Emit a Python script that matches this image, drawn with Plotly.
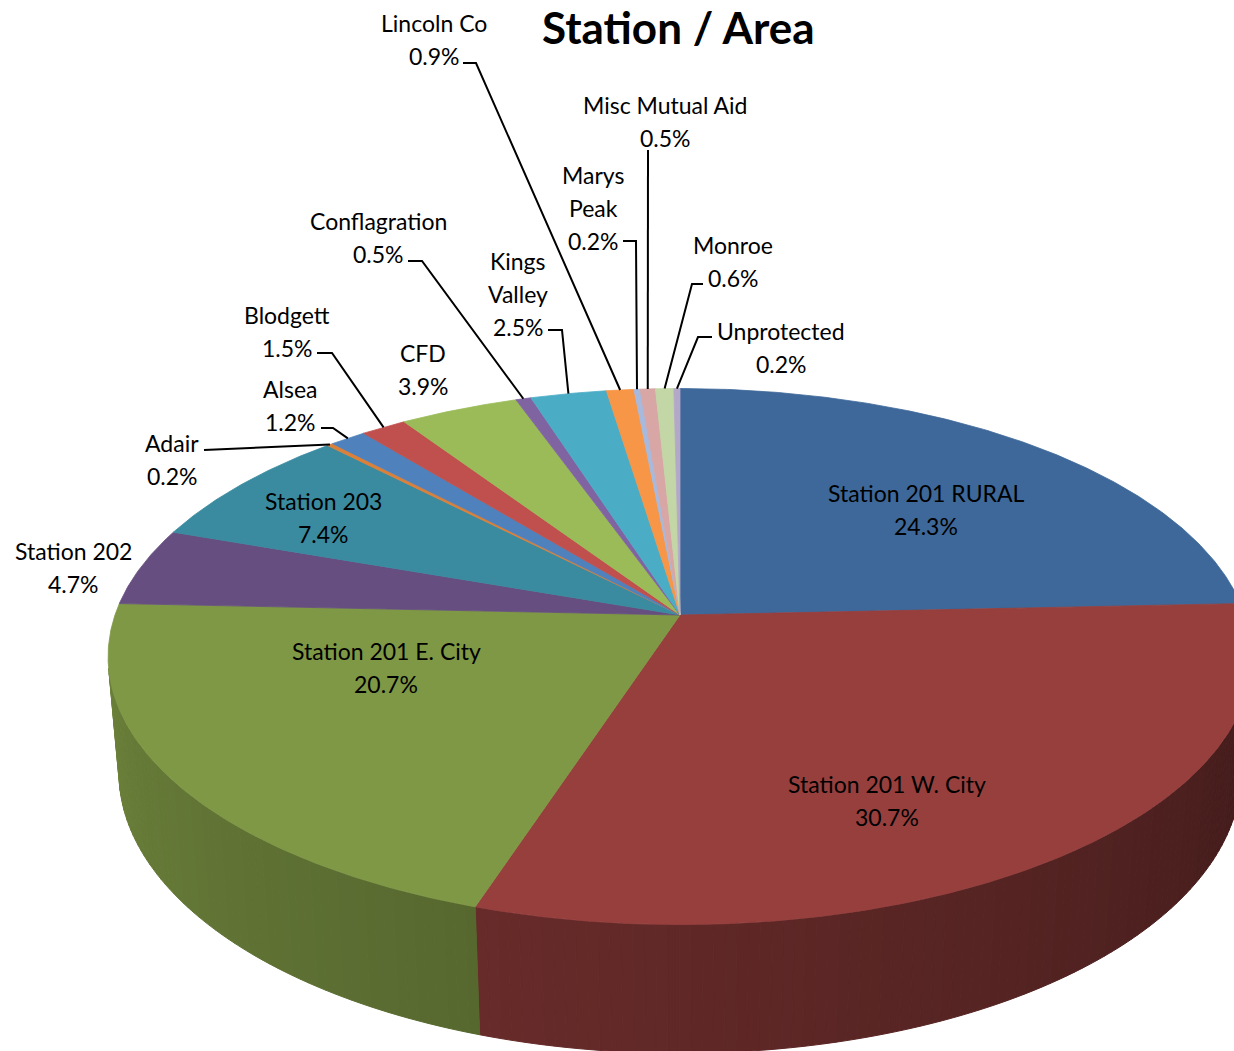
import math
import plotly.graph_objects as go

# ---------------- data ----------------
categories = ["Station 201 RURAL", "Station 201 W. City", "Station 201 E. City",
              "Station 202", "Station 203", "Adair", "Alsea", "Blodgett", "CFD",
              "Conflagration", "Kings Valley", "Lincoln Co", "Marys Peak",
              "Misc Mutual Aid", "Monroe", "Unprotected"]
values = [24.3, 30.7, 20.7, 4.7, 7.4, 0.2, 1.2, 1.5, 3.9, 0.5, 2.5, 0.9, 0.2, 0.5, 0.6, 0.2]
colors = ["#3E6899", "#963F3D", "#7F9845", "#664F80", "#3A8BA0", "#D9803B",
          "#4F81BD", "#C0504D", "#9BBB59", "#8064A2", "#4BACC6", "#F79646",
          "#A7B9DD", "#D7A6A5", "#C3D6A6", "#B3A8C8"]
title = "Station / Area"

# ---------------- layout / style (not data) ----------------
W, H_PX = 1234, 1051
CX, CY = 680.0, 615.0          # projected centre of the pie
R = 565.0                      # pie radius
THICK = 132.0                  # pie thickness
ALPHA = math.asin(0.463)       # tilt
DIST = 3230.0                  # perspective distance
SA, CA = math.sin(ALPHA), math.cos(ALPHA)
FONT = "Lato, Carlito, Calibri, sans-serif"
LABEL_SIZE = 23
LINE_GAP = 33

# label placement: (centre x, y of first line, list of text-line splits)
label_pos = {
    "Station 201 RURAL": (926, 493, None),
    "Station 201 W. City": (887, 784, None),
    "Station 201 E. City": (386, 651, None),
    "Station 202": (73, 551, None),
    "Station 203": (323, 501, None),
    "Adair": (172, 443, None),
    "Alsea": (290, 389, None),
    "Blodgett": (287, 315, None),
    "CFD": (423, 353, None),
    "Conflagration": (378, 221, None),
    "Kings Valley": (518, 261, ["Kings", "Valley"]),
    "Lincoln Co": (434, 23, None),
    "Marys Peak": (593, 175, ["Marys", "Peak"]),
    "Misc Mutual Aid": (665, 105, None),
    "Monroe": (733, 245, None),
    "Unprotected": (781, 331, None),
}
# leader lines: start point(s) near the label; last point is computed on the rim
leaders = {
    "Lincoln Co": [(463, 63), (476, 63)],
    "Misc Mutual Aid": [(648, 150)],
    "Marys Peak": [(623, 241), (636, 241)],
    "Monroe": [(703, 284), (692, 284)],
    "Unprotected": [(712, 337), (698, 337)],
    "Kings Valley": [(548, 330), (562, 330)],
    "Conflagration": [(408, 261), (422, 261)],
    "Blodgett": [(317, 353), (332, 353)],
    "Alsea": [(321, 428), (333, 428)],
    "Adair": [(204, 450)],
}


def proj(theta_deg, z=0.0):
    t = math.radians(theta_deg)
    x = R * math.sin(t)
    y = R * math.cos(t)
    Y = y * SA + z * CA
    d = y * CA - z * SA
    s = DIST / (DIST + d)
    return CX + x * s, CY - Y * s


def shade(hexcol, f):
    h = hexcol.lstrip("#")
    r, g, b = (int(h[i:i + 2], 16) for i in (0, 2, 4))
    return "rgb(%d,%d,%d)" % (round(r * f), round(g * f), round(b * f))


total = sum(values)
bounds = []
acc = 0.0
for v in values:
    a0 = acc / total * 360.0
    acc += v
    a1 = acc / total * 360.0
    bounds.append((a0, a1))

fig = go.Figure()

# ----- side walls (visible front part) -----
c_lim = -R / (DIST * CA)
vis_lo = math.degrees(math.acos(c_lim))
vis_hi = 360.0 - vis_lo
for (a0, a1), col in zip(bounds, colors):
    lo, hi = max(a0, vis_lo), min(a1, vis_hi)
    if hi <= lo:
        continue
    n = max(1, int(math.ceil((hi - lo) / 1.0)))
    for k in range(n):
        t1 = lo + (hi - lo) * k / n
        t2 = lo + (hi - lo) * (k + 1) / n
        tm = 0.5 * (t1 + t2)
        f = 0.41 + (tm - 90.0) / 180.0 * 0.46
        c = shade(col, f)
        pts = [proj(t1, 0), proj(t2, 0), proj(t2, -THICK), proj(t1, -THICK)]
        xs = [p[0] for p in pts] + [pts[0][0]]
        ys = [p[1] for p in pts] + [pts[0][1]]
        fig.add_trace(go.Scatter(x=xs, y=ys, fill="toself", fillcolor=c,
                                 mode="lines", line=dict(color=c, width=1),
                                 hoverinfo="skip", showlegend=False))

# ----- top faces -----
for name, (a0, a1), col in zip(categories, bounds, colors):
    n = max(2, int(math.ceil((a1 - a0) / 0.4)))
    xs, ys = [CX], [CY]
    for k in range(n + 1):
        px, py = proj(a0 + (a1 - a0) * k / n, 0)
        xs.append(px)
        ys.append(py)
    xs.append(CX)
    ys.append(CY)
    fig.add_trace(go.Scatter(x=xs, y=ys, fill="toself", fillcolor=col,
                             mode="lines", line=dict(color=col, width=0.8),
                             name=name, hoverinfo="name", showlegend=False))

# ----- leader lines -----
for name, (a0, a1) in zip(categories, bounds):
    if name not in leaders:
        continue
    pts = list(leaders[name]) + [proj(0.5 * (a0 + a1), 0)]
    fig.add_trace(go.Scatter(x=[p[0] for p in pts], y=[p[1] for p in pts],
                             mode="lines", line=dict(color="black", width=2),
                             hoverinfo="skip", showlegend=False))

# ----- labels -----
annotations = []
for name, v in zip(categories, values):
    x0, y0, split = label_pos[name]
    lines = (split if split else [name]) + ["%.1f%%" % v]
    for i, t in enumerate(lines):
        annotations.append(dict(x=x0, y=y0 + i * LINE_GAP, xref="x", yref="y",
                                text=t, showarrow=False,
                                font=dict(family=FONT, size=LABEL_SIZE, color="black"),
                                xanchor="center", yanchor="middle"))
annotations.append(dict(x=678, y=0, xref="x", yref="y", text="<b>%s</b>" % title,
                        showarrow=False, font=dict(family=FONT, size=44, color="black"),
                        xanchor="center", yanchor="top", borderpad=0))

fig.update_layout(
    width=W, height=H_PX,
    margin=dict(l=0, r=0, t=0, b=0),
    paper_bgcolor="white", plot_bgcolor="white",
    xaxis=dict(range=[0, W], visible=False, fixedrange=True),
    yaxis=dict(range=[H_PX, 0], visible=False, fixedrange=True),
    annotations=annotations,
    showlegend=False,
)

fig.write_html("out.html",
               config={"displayModeBar": False},
               post_script="document.body.style.margin='0';"
                           "document.body.style.overflow='hidden';")
